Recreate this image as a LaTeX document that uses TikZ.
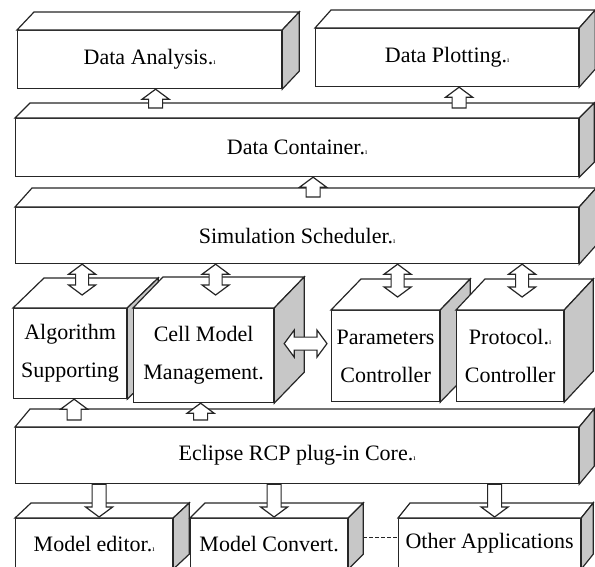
\documentclass[tikz,border=0pt]{standalone}
\usepackage{fontspec}
\setmainfont{Liberation Serif}
\usetikzlibrary{calc}
\definecolor{sidegray}{gray}{0.78}
\newcommand{\pmk}{{\fontsize{8}{8}\selectfont ı}}
% top and side faces of a block
\newcommand{\boxfaces}[3]{%
\filldraw[fill=white] (#1.north west) -- ++(#2,-#3) -- ($(#1.north east)+(#2,-#3)$) -- (#1.north east) -- cycle;
\filldraw[fill=sidegray] (#1.north east) -- ++(#2,-#3) -- ($(#1.south east)+(#2,-#3)$) -- (#1.south east) -- cycle;
}
\tikzset{
  layer/.style={draw, fill=white, anchor=north west, inner sep=0pt, align=center, font=\fontsize{22}{38}\selectfont},
  blk/.style={draw, fill=white},
  onearr/.style={to path={(\tikztostart) coordinate (arS) (\tikztotarget) coordinate (arT)
    ($(arT)!10pt!(arS)$) coordinate (arH)
    ($(arS)!7pt!90:(arT)$) -- ($(arH)!7pt!90:(arT)$) -- ($(arH)!13.5pt!90:(arT)$) -- (arT)
    -- ($(arH)!13.5pt!-90:(arT)$) -- ($(arH)!7pt!-90:(arT)$) -- ($(arS)!7pt!-90:(arT)$) -- cycle}},
  twoarr/.style={to path={(\tikztostart) coordinate (arS) (\tikztotarget) coordinate (arT)
    ($(arS)!10pt!(arT)$) coordinate (arA) ($(arT)!10pt!(arS)$) coordinate (arB)
    (arS) -- ($(arA)!13.5pt!90:(arT)$) -- ($(arA)!6.5pt!90:(arT)$) -- ($(arB)!6.5pt!90:(arT)$) -- ($(arB)!13.5pt!90:(arT)$) -- (arT)
    -- ($(arB)!13.5pt!-90:(arT)$) -- ($(arB)!6.5pt!-90:(arT)$) -- ($(arA)!6.5pt!-90:(arT)$) -- ($(arA)!13.5pt!-90:(arT)$) -- cycle}},
}
\begin{document}
\begin{tikzpicture}[x=1pt,y=-1pt,line width=1.2pt,draw=black!85]
\useasboundingbox (0,0) rectangle (595,566);
\clip (0,0) rectangle (595,566);
\node[layer, minimum width=264pt, minimum height=58pt] (ana) at (17,30) {Data Analysis.\pmk};
\boxfaces{ana}{17}{18}
\node[layer, minimum width=263pt, minimum height=58pt] (plot) at (315,28) {Data Plotting.\pmk};
\boxfaces{plot}{16}{18}
\node[layer, minimum width=563pt, minimum height=58pt] (cont) at (15,118) {Data Container.\pmk};
\boxfaces{cont}{15}{15}
\node[layer, minimum width=563pt, minimum height=56pt] (sched) at (15,207) {Simulation Scheduler.\pmk};
\boxfaces{sched}{17}{19}
\node[layer, minimum width=113pt, minimum height=90pt] (alg) at (13,308) {Algorithm\\Supporting};
\boxfaces{alg}{31}{30}
\node[layer, minimum width=140pt, minimum height=94pt] (cell) at (133,308) {Cell Model\\Management.};
\boxfaces{cell}{30}{31}
\node[layer, minimum width=108pt, minimum height=91pt] (par) at (331,310) {Parameters\\Controller};
\boxfaces{par}{30}{31}
\node[layer, minimum width=107pt, minimum height=91pt] (prot) at (456,310) {Protocol.\pmk\\Controller};
\boxfaces{prot}{29}{31}
\node[layer, minimum width=563pt, minimum height=56pt] (ecl) at (15,427) {Eclipse RCP plug-in Core.\pmk};
\boxfaces{ecl}{15}{18}
\node[layer, minimum width=157pt, minimum height=50pt] (edit) at (15,518) {Model editor.\pmk};
\boxfaces{edit}{16}{15}
\node[layer, minimum width=157pt, minimum height=50pt] (conv) at (190,518) {Model Convert.};
\boxfaces{conv}{15}{15}
\node[layer, minimum width=182pt, minimum height=50pt] (oth) at (398,518) {Other Applications};
\boxfaces{oth}{12}{15}
% arrows
\draw[blk] ($(ana.south |- cont.north)+(6,-10)$) to[onearr] ($(ana.south)+(6,0)$);
\draw[blk] ($(plot.south |- cont.north)+(12,-10)$) to[onearr] ($(plot.south)+(12,0)$);
\draw[blk] ($(cont.south |- sched.north)+(16,-10)$) to[onearr] ($(cont.south)+(16,0)$);
\draw[blk] ($(alg.north |- sched.south)+(12,0)$) to[twoarr] ($(alg.north)+(12,-13)$);
\draw[blk] ($(cell.north |- sched.south)+(12,0)$) to[twoarr] ($(cell.north)+(12,-13)$);
\draw[blk] ($(par.north |- sched.south)+(12,0)$) to[twoarr] ($(par.north)+(12,-13)$);
\draw[blk] ($(prot.north |- sched.south)+(12,0)$) to[twoarr] ($(prot.north)+(12,-13)$);
\draw[blk] ($(cell.east)+(10,-12)$) to[twoarr] ($(par.west |- cell.east)+(-4,-12)$);
\draw[blk] ($(alg.south |- ecl.north)+(4,-7)$) to[onearr] ($(alg.south)+(4,0)$);
\draw[blk] ($(cell.south |- ecl.north)+(-3,-7)$) to[onearr] ($(cell.south)+(-3,0)$);
\draw[blk] ($(edit.north |- ecl.south)+(5,0)$) to[onearr] ($(edit.north)+(5,-1)$);
\draw[blk] ($(conv.north |- ecl.south)+(5,0)$) to[onearr] ($(conv.north)+(5,-1)$);
\draw[blk] ($(oth.north |- ecl.south)+(5,0)$) to[onearr] ($(oth.north)+(5,-1)$);
\draw[dashed, line width=1pt, dash pattern=on 4pt off 2pt] ($(conv.east)+(15,-6)$) -- ($(oth.west |- conv.east)+(0,-6)$);
\end{tikzpicture}
\end{document}
